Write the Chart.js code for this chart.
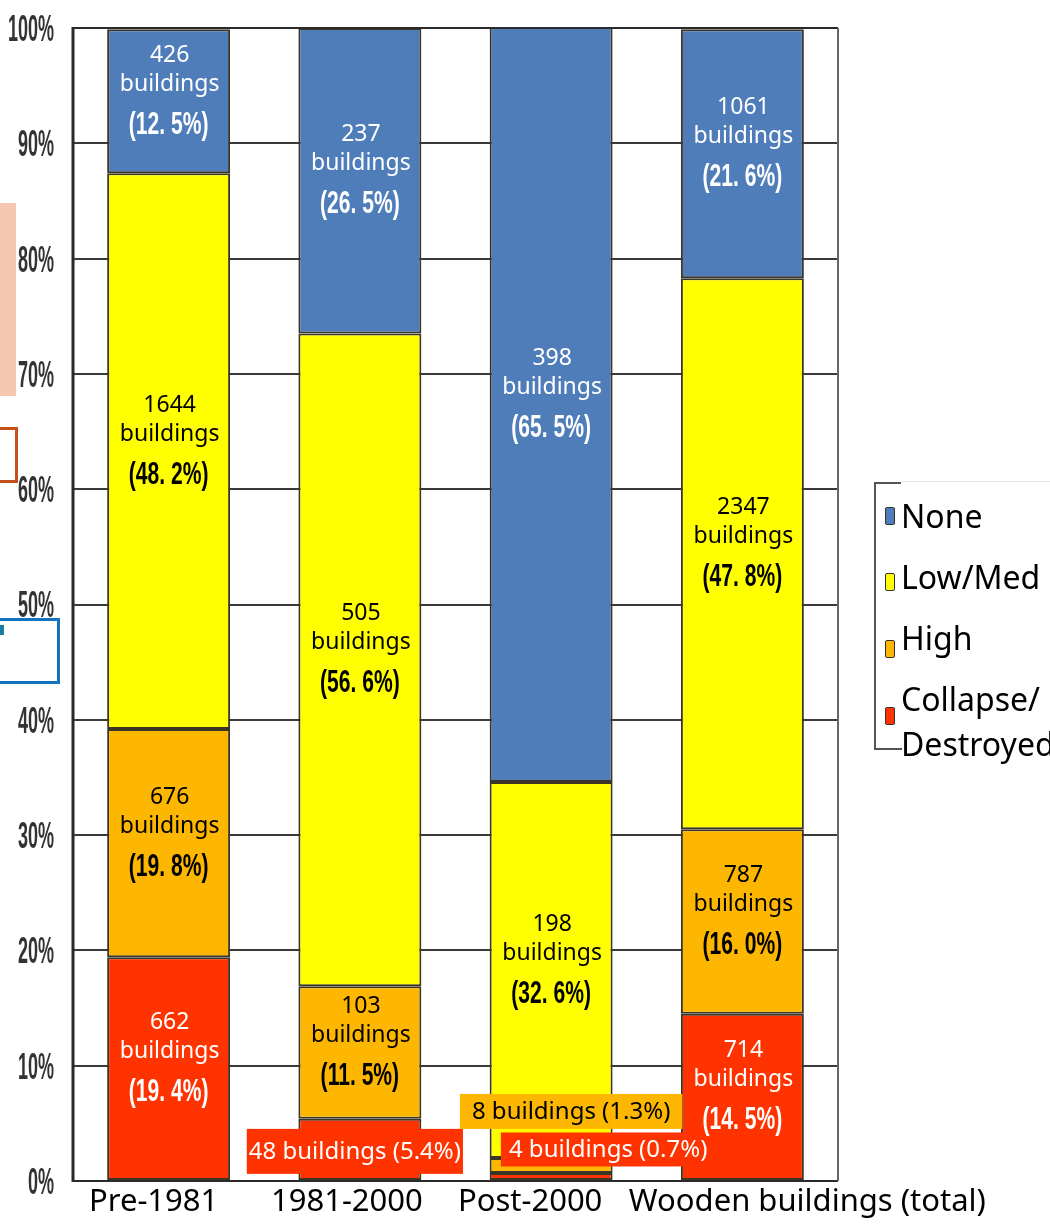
<!DOCTYPE html>
<html>
<head>
<meta charset="utf-8">
<script src="https://cdn.jsdelivr.net/npm/chart.js@4.4.1/dist/chart.umd.min.js"></script>
<style>
  html, body { margin: 0; padding: 0; background: #ffffff; }
  #wrap { position: relative; width: 1050px; height: 1225px; overflow: hidden; font-family: 'Noto Sans', sans-serif; }
  #chart { position: absolute; left: 0; top: 0; }
  .deco { position: absolute; box-sizing: border-box; }
  #legend { position: absolute; left: 874px; top: 482px; width: 200px; height: 270px; }
  .lg-item { position: absolute; left: 10px; font-size: 32px; line-height: 1; color: #000; white-space: nowrap; }
  .lg-sw { position: absolute; width: 10px; height: 18px; border: 1px solid #333; border-radius: 2px; box-sizing: border-box; }
</style>
</head>
<body>
<div id="wrap">
  <canvas id="chart" width="1050" height="1225"></canvas>
  <!-- stray decorations on the left edge of the reference -->
  <div class="deco" style="left:0;top:203px;width:16px;height:193px;background:#f5c7b1;"></div>
  <div class="deco" style="left:-6px;top:427px;width:24px;height:56px;border:3px solid #c4501c;"></div>
  <div class="deco" style="left:-6px;top:618px;width:66px;height:66px;border:3px solid #1472c0;"></div>
  <div class="deco" style="left:0;top:625px;width:4px;height:10px;background:#1a7ea0;"></div>
  <div id="legend">
    <div class="deco" style="left:0;top:0;width:2px;height:268px;background:#555;"></div>
    <div class="deco" style="left:0;top:0;width:27px;height:2px;background:#555;"></div>
    <div class="deco" style="left:27px;top:-1px;width:180px;height:1px;background:#e6e6e6;"></div>
    <div class="deco" style="left:0;top:266px;width:28px;height:2px;background:#555;"></div>
  </div>
</div>
<script>
// ---------------- data ----------------
const categories = ['Pre-1981', '1981-2000', 'Post-2000', 'Wooden buildings (total)'];
const seriesNames = ['None', 'Low/Med', 'High', 'Collapse/Destroyed'];
const legendLabels = ['None', 'Low/Med', 'High', 'Collapse/\nDestroyed'];

const nonePct = [12.5, 26.5, 65.5, 21.6];
const noneCount = [426, 237, 398, 1061];
const lowMedPct = [48.2, 56.6, 32.6, 47.8];
const lowMedCount = [1644, 505, 198, 2347];
const highPct = [19.8, 11.5, 1.3, 16.0];
const highCount = [676, 103, 8, 787];
const collapsePct = [19.4, 5.4, 0.7, 14.5];
const collapseCount = [662, 48, 4, 714];

const yTickValues = [0, 10, 20, 30, 40, 50, 60, 70, 80, 90, 100];

// ---------------- styles / layout ----------------
const colors = { none: '#4f7dba', low: '#ffff00', high: '#fdb700', collapse: '#ff3300' };
const textColors = { none: '#ffffff', low: '#000000', high: '#000000', collapse: '#ffffff' };
const xLabelOffsets = [-15, -13, -21, 65];
// small segments whose labels are put in call-out boxes: [datasetKey, categoryIndex, dx, dy, pad, height]
const calloutLayout = {
  'collapse-1': { dx: -5, dy: 2, pad: 2, h: 45 },
  'high-2': { dx: 20, dy: -54, pad: 12, h: 35 },
  'collapse-2': { dx: 57, dy: -27, pad: 8, h: 34 }
};

const datasets = [
  { key: 'collapse', label: seriesNames[3], data: collapsePct, counts: collapseCount, backgroundColor: colors.collapse },
  { key: 'high', label: seriesNames[2], data: highPct, counts: highCount, backgroundColor: colors.high },
  { key: 'low', label: seriesNames[1], data: lowMedPct, counts: lowMedCount, backgroundColor: colors.low },
  { key: 'none', label: seriesNames[0], data: nonePct, counts: noneCount, backgroundColor: colors.none }
].map(d => Object.assign(d, {
  borderColor: '#3b3526', borderWidth: 2, borderSkipped: false,
  barPercentage: 0.643, categoryPercentage: 1.0
}));

function pctText(v) { return '(' + v.toFixed(1).replace('.', '. ') + '%)'; }

function drawSquished(ctx, text, x, y, sx, align) {
  ctx.save();
  ctx.translate(x, y);
  ctx.scale(sx, 1);
  ctx.textAlign = align;
  ctx.fillText(text, 0, 0);
  ctx.restore();
}

const framePlugin = {
  id: 'frame',
  afterDatasetsDraw(chart) {
    const { ctx, chartArea: a } = chart;
    ctx.save();
    ctx.strokeStyle = '#2a2a2a';
    ctx.lineWidth = 3;
    ctx.beginPath(); ctx.moveTo(a.left, a.top - 1); ctx.lineTo(a.left, a.bottom + 1); ctx.stroke();
    ctx.lineWidth = 2;
    ctx.beginPath(); ctx.moveTo(a.left, a.top); ctx.lineTo(a.right, a.top); ctx.stroke();
    ctx.beginPath(); ctx.moveTo(a.left, a.bottom); ctx.lineTo(a.right, a.bottom); ctx.stroke();
    ctx.strokeStyle = '#666';
    ctx.beginPath(); ctx.moveTo(a.right, a.top); ctx.lineTo(a.right, a.bottom); ctx.stroke();
    ctx.restore();
  }
};

const labelPlugin = {
  id: 'segLabels',
  afterDatasetsDraw(chart) {
    const ctx = chart.ctx;
    chart.data.datasets.forEach((ds, di) => {
      const meta = chart.getDatasetMeta(di);
      meta.data.forEach((el, i) => {
        const cx = el.x;
        const cy = (el.y + el.base) / 2;
        const col = textColors[ds.key];
        const key = ds.key + '-' + i;
        ctx.save();
        if (calloutLayout[key]) {
          const L = calloutLayout[key];
          const txt = ds.counts[i] + ' buildings (' + ds.data[i].toFixed(1) + '%)';
          ctx.font = '24px "Noto Sans"';
          const w = ctx.measureText(txt).width + 2 * L.pad;
          const bx = cx + L.dx - w / 2, by = cy + L.dy - L.h / 2;
          ctx.fillStyle = ds.backgroundColor;
          ctx.fillRect(bx, by, w, L.h);
          ctx.fillStyle = col;
          ctx.textAlign = 'center';
          ctx.textBaseline = 'middle';
          ctx.fillText(txt, cx + L.dx, cy + L.dy + 1);
        } else {
          ctx.fillStyle = col;
          ctx.textBaseline = 'middle';
          ctx.font = '23px "Noto Sans"';
          ctx.textAlign = 'center';
          ctx.fillText(String(ds.counts[i]), cx + 1, cy - 46);
          ctx.fillText('buildings', cx + 1, cy - 17);
          ctx.font = 'bold 31px "Liberation Sans", Arial, sans-serif';
          drawSquished(ctx, pctText(ds.data[i]), cx, cy + 24, 0.68, 'center');
        }
        ctx.restore();
      });
    });
  }
};

const axisTextPlugin = {
  id: 'axisText',
  afterDraw(chart) {
    const ctx = chart.ctx;
    const ys = chart.scales.y, xs = chart.scales.x;
    ctx.save();
    ctx.fillStyle = '#333333';
    ctx.textBaseline = 'middle';
    ctx.font = 'bold 36px "Liberation Sans", Arial, sans-serif';
    yTickValues.forEach(v => {
      drawSquished(ctx, v + '%', 54, ys.getPixelForValue(v) + 3, 0.5, 'right');
    });
    ctx.fillStyle = '#000000';
    ctx.font = '31px "Noto Sans"';
    ctx.textAlign = 'center';
    categories.forEach((c, i) => {
      ctx.fillText(c, xs.getPixelForValue(i) + xLabelOffsets[i], 1202);
    });
    ctx.restore();
  }
};

new Chart(document.getElementById('chart'), {
  type: 'bar',
  data: { labels: categories, datasets: datasets },
  options: {
    responsive: false,
    animation: false,
    layout: { padding: { left: 73, right: 212, top: 28, bottom: 44 } },
    plugins: { legend: { display: false }, tooltip: { enabled: false } },
    scales: {
      x: {
        stacked: true,
        grid: { display: false, drawTicks: false },
        border: { display: false },
        ticks: { display: false }
      },
      y: {
        stacked: true, min: 0, max: 100,
        afterBuildTicks(scale) { scale.ticks = yTickValues.map(v => ({ value: v })); },
        grid: { color: '#3a3a3a', lineWidth: 2, drawTicks: false },
        border: { display: false },
        ticks: { display: false }
      }
    }
  },
  plugins: [framePlugin, labelPlugin, axisTextPlugin]
});

// ---------------- legend (HTML) ----------------
const legend = document.getElementById('legend');
const legendColors = [colors.none, colors.low, colors.high, colors.collapse];
const textTops = [17, 78, 139, 200];
const swatchTops = [25, 91, 158, 225];
legendLabels.forEach((lab, i) => {
  const sw = document.createElement('div');
  sw.className = 'lg-sw';
  sw.style.left = '11px';
  sw.style.top = swatchTops[i] + 'px';
  sw.style.background = legendColors[i];
  legend.appendChild(sw);
  const t = document.createElement('div');
  t.className = 'lg-item';
  t.style.left = '27px';
  t.style.top = textTops[i] + 'px';
  t.style.lineHeight = '45px';
  t.style.marginTop = '-6px';
  t.innerHTML = lab.replace('\n', '<br>');
  legend.appendChild(t);
});
</script>
</body>
</html>
